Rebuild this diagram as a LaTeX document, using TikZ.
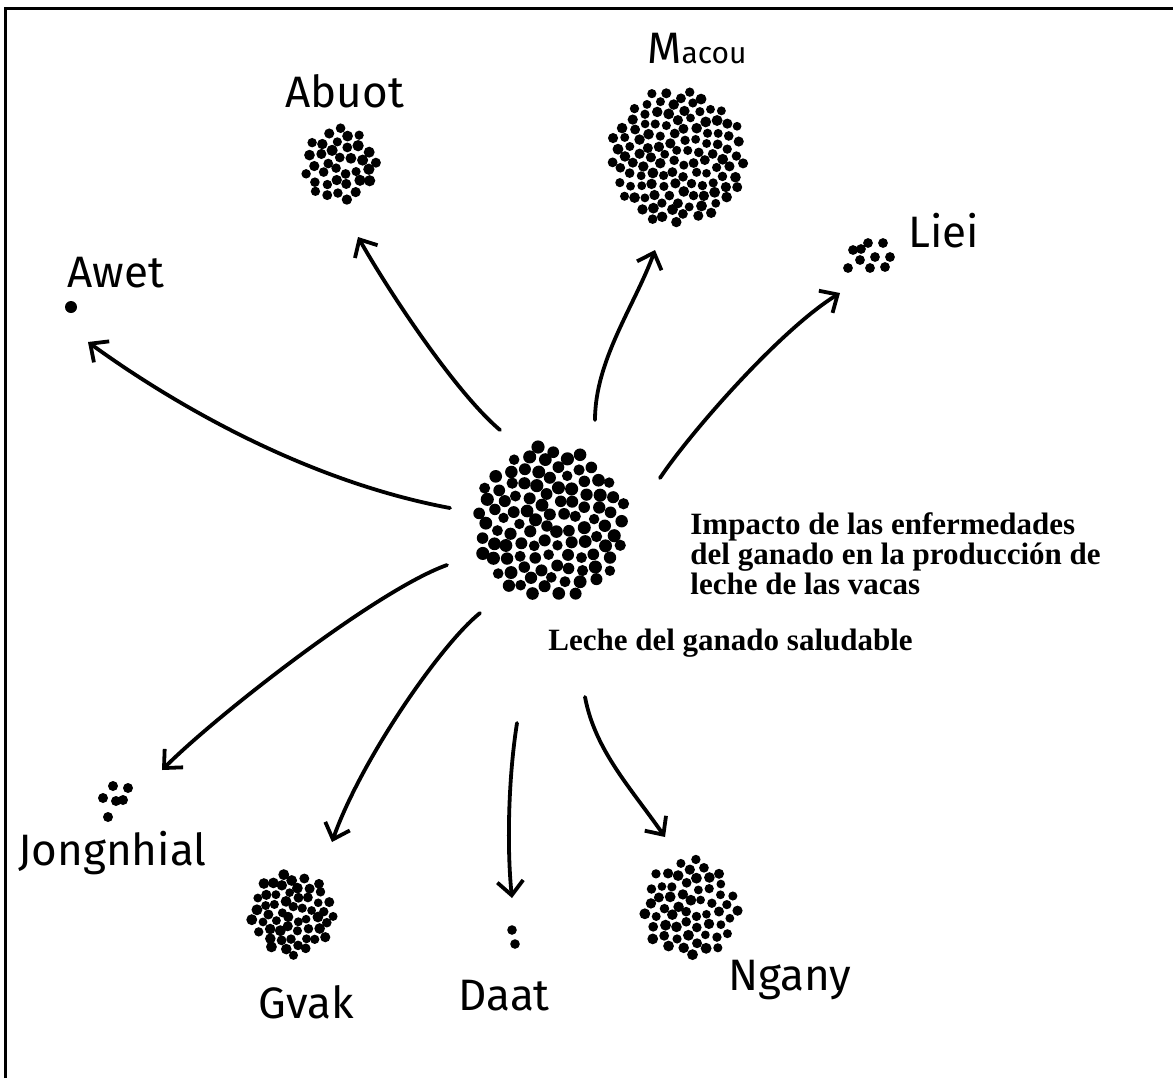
\documentclass[tikz,border=0pt]{standalone}
\usepackage{fontspec}
\newfontfamily\handfont{Fira Sans}
\newfontfamily\serifbold{Liberation Serif}
\usetikzlibrary{arrows.meta}

\newcommand\sunflower[6]{% #1 name, #2 cx, #3 cy, #4 R, #5 N, #6 dot radius
  \coordinate (#1) at (#2,#3);
  \foreach \i in {1,...,#5}{
    \pgfmathsetmacro\rr{#4*sqrt((\i-0.5)/#5)}
    \pgfmathsetmacro\aa{\i*137.508}
    \pgfmathsetmacro\jx{1.0*rand}
    \pgfmathsetmacro\jy{1.0*rand}
    \pgfmathsetmacro\ds{#6*(1+0.12*rand)}
    \fill ({#2+\rr*cos(\aa)+\jx},{#3+\rr*sin(\aa)+\jy}) circle (\ds);
  }}

\tikzset{
  arr/.style={line width=1.9pt, line cap=round,
    -{Straight Barb[length=7pt,width=13pt,line width=1.9pt]}},
  hand/.style={font=\handfont\fontsize{22}{26}\selectfont, inner sep=0pt, anchor=base west},
  caption/.style={font=\serifbold\bfseries\fontsize{15.5}{15}\selectfont, inner sep=0pt, align=left},
  frameline/.style={line width=1.4pt, line join=miter}
}

\begin{document}
\begin{tikzpicture}[x=0.5pt,y=-0.5pt]
\useasboundingbox (0,0) rectangle (1173,1078);
\fill[white] (0,0) rectangle (1173,1078);
\pgfmathsetseed{17}

% frame (top and left edges)
\draw[frameline] (5.5,1078) -- (5.5,8.5) -- (1173,8.5);

% clusters
\sunflower{main}{550}{523}{77}{105}{5.9}
\sunflower{macouC}{677}{157}{68}{118}{4.9}
\sunflower{abuotC}{340}{165}{38}{36}{5.1}
\sunflower{gvakC}{292}{914}{42}{55}{4.9}
\sunflower{nganyC}{690}{908}{49}{58}{4.9}

% Awet: single dot
\coordinate (awetC) at (71,307);
\fill (awetC) circle (6);
% Daat: two dots
\coordinate (daatC) at (513,937);
\fill (512,930) circle (4.8);
\fill (515,944) circle (4.8);
% Jongnhial: few dots
\coordinate (jongC) at (115,800);
\foreach \p in {(113,786),(128,788),(103,798),(116,801),(123,800),(108,817)}
  \fill \p circle (5);
% Liei: few dots
\coordinate (lieiC) at (869,256);
\foreach \p in {(868,243),(883,243),(853,250),(860,260),(875,257),(890,257),(848,268),(870,268),(885,267),(861,249)}
  \fill \p circle (4.9);

% labels
\node[hand] (awet) at (67,287) {Awet};
\node[hand] (abuot) at (285,107) {Abuot};
\node[hand] (macou) at (647,63) {M{\fontsize{15}{18}\selectfont acou}};
\node[hand] (liei) at (908,247) {Liei};
\node[hand] (jong) at (18,865) {Jongnhial};
\node[hand] (gvak) at (258,1018) {Gvak};
\node[hand] (daat) at (458,1010) {Daat};
\node[hand] (ngany) at (728,990) {Ngany};

\node[caption, anchor=north west] (impacto) at (690,512)
  {Impacto de las enfermedades\\del ganado en la producción de\\leche de las vacas};
\node[caption, anchor=base west] (leche) at (548,650) {Leche del ganado saludable};

% arrow end points
\coordinate (awS) at (450,508); \coordinate (awT) at (88,342);
\coordinate (abS) at (500,430); \coordinate (abT) at (358,237);
\coordinate (maS) at (595,420); \coordinate (maT) at (655,250);
\coordinate (liS) at (660,478); \coordinate (liT) at (840,293);
\coordinate (joS) at (447,565); \coordinate (joT) at (162,770);
\coordinate (gvS) at (480,613); \coordinate (gvT) at (332,842);
\coordinate (daS) at (517,723); \coordinate (daT) at (512,898);
\coordinate (ngS) at (585,697); \coordinate (ngT) at (665,837);

\draw[arr] (awS) .. controls (300,480) and (165,398) .. (awT);
\draw[arr] (abS) .. controls (455,392) and (388,290) .. (abT);
\draw[arr] (maS) .. controls (595,360) and (635,305) .. (maT);
\draw[arr] (liS) .. controls (690,433) and (780,330) .. (liT);
\draw[arr] (joS) .. controls (377,590) and (217,715) .. (joT);
\draw[arr] (gvS) .. controls (440,645) and (360,762) .. (gvT);
\draw[arr] (daS) .. controls (508,780) and (507,850) .. (daT);
\draw[arr] (ngS) .. controls (595,750) and (630,787) .. (ngT);
\end{tikzpicture}
\end{document}
